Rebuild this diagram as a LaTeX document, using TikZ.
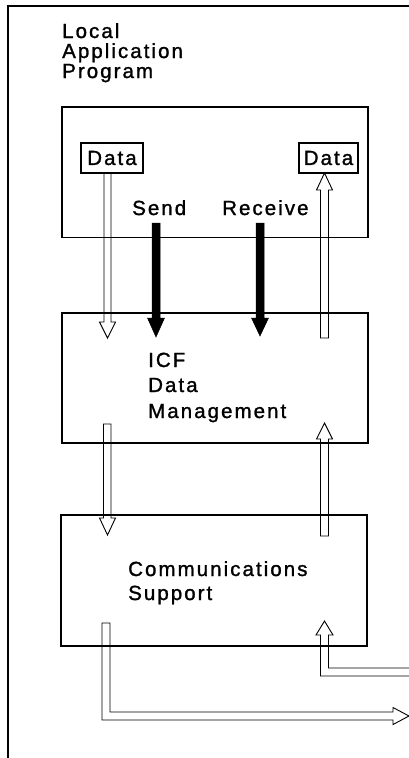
\documentclass[tikz,border=0pt]{standalone}
\usepackage{fontspec}
\setmainfont{Liberation Sans}[LetterSpace=10,FakeBold=1.3]
\begin{document}
\begin{tikzpicture}[x=1pt,y=-1pt,
  box/.style={draw, line width=1.1pt, inner sep=0pt, outer sep=0pt},
  lbl/.style={anchor=base west, inner sep=0pt, font=\fontsize{20.5}{24}\selectfont},
  dbox/.style={draw, line width=1.1pt, inner sep=0pt, font=\fontsize{20.5}{24}\selectfont},
  hol/.style={draw, line width=0.9pt, line join=miter},
  blk/.style={fill=black, draw=black, line width=0.5pt, line join=miter}]
\useasboundingbox (0,0) rectangle (409,758);
% frame
\draw[line width=1.1pt] (409,6) -- (8,6) -- (8,758);
% boxes
\node[box, minimum width=306pt, minimum height=130.5pt] (app) at (215,172.25) {};
\node[box, minimum width=306pt, minimum height=130pt] (icf) at (215,378) {};
\node[box, minimum width=306pt, minimum height=131pt] (comm) at (214,580.5) {};
\node[dbox, minimum width=62pt, minimum height=30pt] (dl) at (112,158) {Data};
\node[dbox, minimum width=59pt, minimum height=30pt] (dr) at (328.5,158) {Data};
% texts
\node[lbl] (t1) at (62,38) {Local};
\node[lbl] (t2) at (62,58) {Application};
\node[lbl] (t3) at (62,78) {Program};
\node[lbl] (send) at (132,215) {Send};
\node[lbl] (recv) at (222,215) {Receive};
\node[lbl] (i1) at (148,367) {ICF};
\node[lbl] (i2) at (148,392) {Data};
\node[lbl] (i3) at (148,418) {Management};
\node[lbl] (c1) at (128,576) {Communications};
\node[lbl] (c2) at (128,600) {Support};
% hollow arrows
\draw[hol] (104,173) -- (104,322) -- (99.5,322) -- (107.5,338) -- (115.5,322) -- (111,322) -- (111,173);
\draw[hol] (320.5,338) -- (320.5,190) -- (316.5,190) -- (324.5,173) -- (332.5,190) -- (328.5,190) -- (328.5,338) -- cycle;
\draw[hol] (103.5,424) -- (103.5,518) -- (99.5,518) -- (107.5,535) -- (115.5,518) -- (111,518) -- (111,424) -- cycle;
\draw[hol] (320.5,536) -- (320.5,439) -- (316.5,439) -- (324.5,423) -- (332.5,439) -- (328.5,439) -- (328.5,536) -- cycle;
\draw[hol] (102,623) -- (102,720) -- (393,720) -- (393,724.5) -- (409,716) -- (393,707.5) -- (393,712) -- (110,712) -- (110,623) -- cycle;
\draw[hol] (409,668) -- (328.5,668) -- (328.5,635) -- (333,635) -- (324.5,621) -- (316,635) -- (320.5,635) -- (320.5,676) -- (409,676);
% black arrows
\draw[blk] (152,223) -- (152,318) -- (147.5,318) -- (156,337) -- (164.5,318) -- (160,318) -- (160,223) -- cycle;
\draw[blk] (256,223) -- (256,318) -- (251.5,318) -- (260,336) -- (268.5,318) -- (264,318) -- (264,223) -- cycle;
\end{tikzpicture}
\end{document}
